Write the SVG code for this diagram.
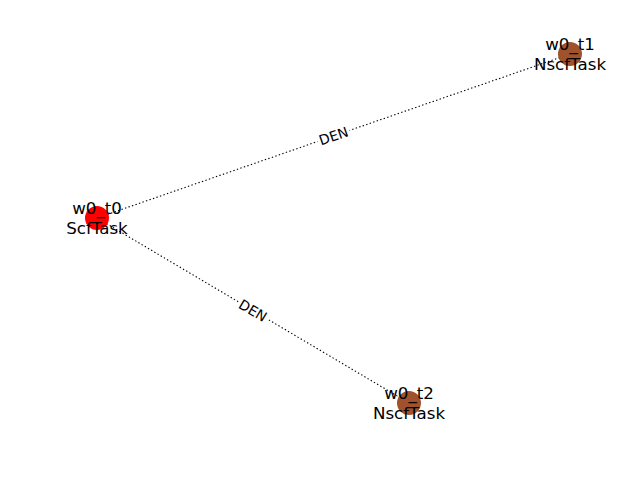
<svg xmlns="http://www.w3.org/2000/svg" width="640" height="480" viewBox="0 0 640 480">
<style>
.edge{stroke:#000;stroke-width:1.1;stroke-dasharray:1.4 2.3;fill:none}
.lbl{font-family:"DejaVu Sans",sans-serif;font-size:16.67px;fill:#000;text-anchor:middle}
.elbl{font-family:"DejaVu Sans",sans-serif;font-size:13.9px;fill:#000;text-anchor:middle}
.bg{fill:#fff}
</style>
<rect width="640" height="480" fill="#fff"/>
<g id="connectors">
<line class="edge" x1="97" y1="218" x2="570" y2="54"/>
<line class="edge" x1="97" y1="218" x2="409" y2="403"/>
<g transform="translate(333.5,136) rotate(-19.1)">
<rect class="bg" x="-17" y="-8" width="34" height="16"/>
<text class="elbl" y="5">DEN</text>
</g>
<g transform="translate(253,310.5) rotate(30.7)">
<rect class="bg" x="-17" y="-8" width="34" height="16"/>
<text class="elbl" y="5">DEN</text>
</g>
</g>
<g id="w0_t0">
<circle cx="97" cy="218" r="12" fill="#ff0000"/>
<text class="lbl" x="97" y="214">w0_t0</text>
<text class="lbl" x="97" y="234">ScfTask</text>
</g>
<g id="w0_t1">
<circle cx="570" cy="54" r="12" fill="#a0522d"/>
<text class="lbl" x="570" y="50">w0_t1</text>
<text class="lbl" x="570" y="70">NscfTask</text>
</g>
<g id="w0_t2">
<circle cx="409" cy="403" r="12" fill="#a0522d"/>
<text class="lbl" x="409" y="399">w0_t2</text>
<text class="lbl" x="409" y="419">NscfTask</text>
</g>
</svg>
